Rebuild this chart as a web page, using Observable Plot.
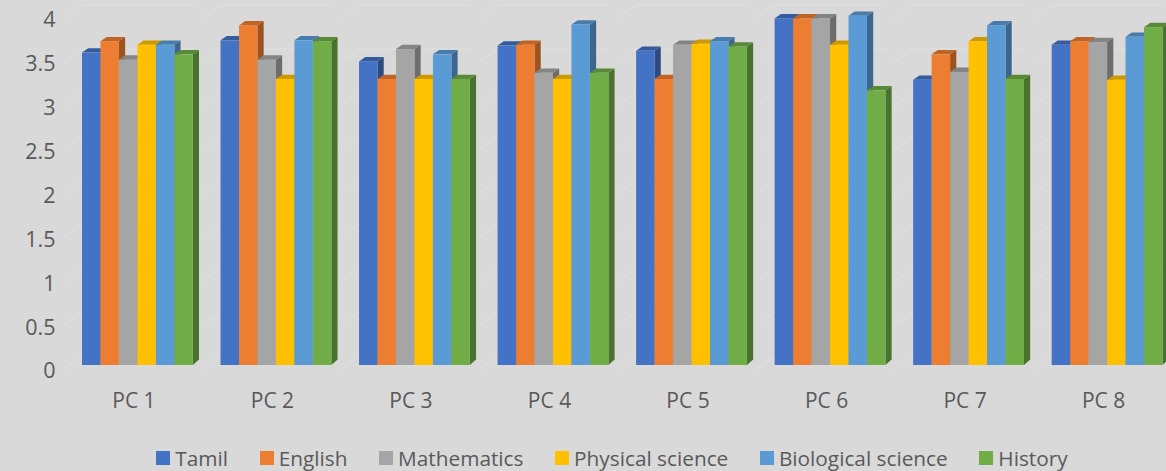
<!DOCTYPE html>
<html><head><meta charset="utf-8">
<script src="https://cdn.jsdelivr.net/npm/d3@7"></script>
<script src="https://cdn.jsdelivr.net/npm/@observablehq/plot@0.6"></script>
<style>
html,body{margin:0;padding:0;background:#d9d9d9;overflow:hidden;width:1166px;height:471px}
svg{display:block}
#legend{display:flex;justify-content:center;align-items:center;height:46px;font:20.8px "Open Sans",sans-serif;color:#595959;padding-left:58px}
#legend span.k{display:inline-flex;align-items:center;margin:0 15.8px;white-space:nowrap}
#legend i{display:inline-block;width:14px;height:14px;margin-right:5px}
</style></head><body>
<div id="chart"></div><div id="legend"></div>
<script>
const groups = ["PC 1","PC 2","PC 3","PC 4","PC 5","PC 6","PC 7","PC 8"];
const subjects = ["Tamil","English","Mathematics","Physical science","Biological science","History"];
const colors = ["#4472C4","#ED7D31","#A5A5A5","#FFC000","#5B9BD5","#70AD47"];
const tamil =      [3.56,3.70,3.46,3.64,3.58,3.95,3.25,3.65];
const english =    [3.69,3.87,3.26,3.65,3.26,3.95,3.54,3.69];
const mathematics =[3.48,3.48,3.60,3.33,3.65,3.95,3.34,3.68];
const physical =   [3.65,3.26,3.26,3.26,3.66,3.65,3.69,3.25];
const biological = [3.65,3.70,3.54,3.88,3.69,3.98,3.87,3.74];
const history =    [3.54,3.69,3.26,3.33,3.63,3.13,3.26,3.85];
const yTicks = [0,0.5,1,1.5,2,2.5,3,3.5,4];

const series = [tamil,english,mathematics,physical,biological,history];
const rows = groups.flatMap((g,i)=>subjects.map((s,j)=>({group:g,subject:s,value:series[j][i]})));

const NS = "http://www.w3.org/2000/svg";
function poly(pts, fill){
  const p = document.createElementNS(NS,"polygon");
  p.setAttribute("points", pts.map(q=>q.join(",")).join(" "));
  p.setAttribute("fill", fill);
  return p;
}
function shade(c,k){const r=d3.rgb(c);return d3.rgb(r.r*k,r.g*k,r.b*k).formatHex();}
// 3D look: adds a top and a side face behind each bar that Plot drew
function extrude(index, scales, values, dims, ctx, next){
  const g = next(index, scales, values, dims, ctx);
  const dx = 6.2, dyTop = 4.3, dyBot = 5.6;
  g.querySelectorAll("rect").forEach(r=>{
    const x=+r.getAttribute("x"), y=+r.getAttribute("y"), w=+r.getAttribute("width"), h=+r.getAttribute("height");
    const f=r.getAttribute("fill");
    r.parentNode.insertBefore(poly([[x+w,y],[x+w+dx,y-dyTop],[x+w+dx,y+h-dyBot],[x+w,y+h]],shade(f,0.66)),r);
    r.parentNode.insertBefore(poly([[x,y],[x+dx,y-dyTop],[x+w+dx,y-dyTop],[x+w,y]],shade(f,0.8)),r);
  });
  return g;
}
// back wall grid lines and their diagonals on the side wall, placed by the y scale
function grid(index, scales, values, dims){
  const g=document.createElementNS(NS,"g");
  yTicks.forEach(v=>{
    const y=scales.y(v);
    const l=document.createElementNS(NS,"polyline");
    l.setAttribute("points",`63,${y+4} 81,${y-9} ${dims.width},${y-9}`);
    l.setAttribute("fill","none");
    l.setAttribute("stroke","#dedede");l.setAttribute("stroke-width",1.3);
    g.appendChild(l);
  });
  return g;
}

const plot = Plot.plot({
  width:1166, height:435,
  marginLeft:81, marginRight:0, marginTop:0, marginBottom:70,
  style:{background:"#d9d9d9",fontFamily:'"Open Sans",sans-serif',color:"#595959",overflow:"hidden"},
  y:{domain:[0,4],range:[365,14]},
  fx:{domain:groups,range:[82,1162.5],padding:0.2,round:false,label:null},
  x:{domain:subjects,padding:0,round:false,axis:null,label:null},
  color:{domain:subjects,range:colors},
  marks:[
    grid,
    Plot.axisY({ticks:yTicks,tickSize:0,tickPadding:27,label:null,fontSize:21.5,dy:6,tickFormat:d=>String(d),anchor:"left"}),
    Plot.axisFx({anchor:"bottom",tickSize:0,tickPadding:28,label:null,fontSize:21,dx:-4}),
    Plot.barY(rows,{fx:"group",x:"subject",y:"value",fill:"subject",render:extrude})
  ]
});
document.getElementById("chart").appendChild(plot);
const lg=document.getElementById("legend");
subjects.forEach((s,i)=>{
  const k=document.createElement("span");k.className="k";
  const sw=document.createElement("i");sw.style.background=colors[i];
  k.appendChild(sw);k.appendChild(document.createTextNode(s));lg.appendChild(k);
});
</script></body></html>
